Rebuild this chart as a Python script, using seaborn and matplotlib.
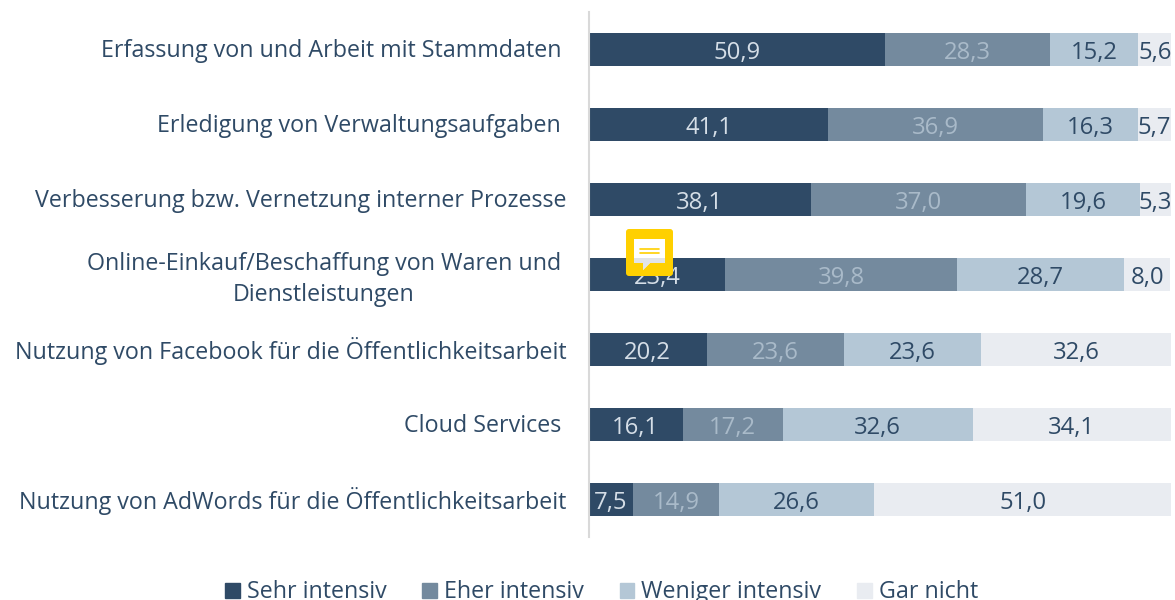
import matplotlib
matplotlib.use('Agg')
import matplotlib.pyplot as plt
from matplotlib.patches import FancyBboxPatch, Polygon, Rectangle
from matplotlib.lines import Line2D
from matplotlib.transforms import ScaledTranslation
import pandas as pd
import seaborn as sns

categories = [
    'Erfassung von und Arbeit mit Stammdaten',
    'Erledigung von Verwaltungsaufgaben',
    'Verbesserung bzw. Vernetzung interner Prozesse',
    'Online-Einkauf/Beschaffung von Waren und\nDienstleistungen',
    'Nutzung von Facebook für die Öffentlichkeitsarbeit',
    'Cloud Services',
    'Nutzung von AdWords für die Öffentlichkeitsarbeit',
]
series_names = ['Sehr intensiv', 'Eher intensiv', 'Weniger intensiv', 'Gar nicht']
sehr_intensiv = [50.9, 41.1, 38.1, 23.4, 20.2, 16.1, 7.5]
eher_intensiv = [28.3, 36.9, 37.0, 39.8, 23.6, 17.2, 14.9]
weniger_intensiv = [15.2, 16.3, 19.6, 28.7, 23.6, 32.6, 26.6]
gar_nicht = [5.6, 5.7, 5.3, 8.0, 32.6, 34.1, 51.0]

colors = ['#2f4a66', '#748a9e', '#b4c7d6', '#e9ecf1']
value_colors = ['#d5dee7', '#a9bac9', '#2f4a66', '#2f4a66']
text_color = '#2f4a66'

sns.set_theme(style='white')
plt.rcParams['font.family'] = ['Open Sans', 'DejaVu Sans']

fig = plt.figure(figsize=(11.75, 6), dpi=100)
ax = fig.add_axes([589 / 1175, 1 - 537 / 600, 582 / 1175, 525 / 600])

left = [0.0] * len(categories)
for name, vals, col, vcol in zip(series_names, [sehr_intensiv, eher_intensiv, weniger_intensiv, gar_nicht], colors, value_colors):
    df = pd.DataFrame({'cat': categories, 'val': vals})
    before = len(ax.containers)
    sns.barplot(data=df, y='cat', x='val', color=col, saturation=1, width=0.44,
                left=left, ax=ax, orient='h', linewidth=0)
    bars = ax.containers[before]
    texts = ax.bar_label(bars, labels=[f'{v:.1f}'.replace('.', ',') for v in vals],
                         label_type='center', color=vcol, fontsize=17.2)
    for t in texts:
        t.xyann = (0, -2.5)
    left = [a + b for a, b in zip(left, vals)]

ax.set_xlim(0, 100)
ax.set_ylim(6.5, -0.5)
ax.set_xlabel('')
ax.set_ylabel('')
ax.xaxis.set_visible(False)
sns.despine(ax=ax, left=False, top=True, right=True, bottom=True)
ax.spines['left'].set_color('#d9d9d9')
ax.spines['left'].set_linewidth(1.5)

# labels do not all end at the same x in the original
pads = [20, 20, 16, 20, 16, 20, 16]
ax.tick_params(axis='y', length=0)
for tick, pad in zip(ax.yaxis.get_major_ticks(), pads):
    tick.set_pad(pad)
lift = ScaledTranslation(0, 1.5 / 100, fig.dpi_scale_trans)
for lab in ax.get_yticklabels():
    lab.set_fontsize(16.75)
    lab.set_color(text_color)
    lab.set_multialignment('center')
    lab.set_linespacing(1.4)
    lab.set_transform(lab.get_transform() + lift)

# legend
handles = [Rectangle((0, 0), 1, 1, color=c) for c in colors]
fig.legend(handles, series_names, loc='lower center', ncol=4, frameon=False,
           bbox_to_anchor=(0.512, -0.042), fontsize=16.75, labelcolor=text_color,
           handlelength=0.62, handleheight=0.62, handletextpad=0.3, columnspacing=1.55)

# yellow comment icon on top of the chart
def px(x, y):
    return (x / 1175, 1 - y / 600)

tr = fig.transFigure
fig.add_artist(FancyBboxPatch((626, 600 - 276), 47, 47, boxstyle='round,pad=0,rounding_size=3',
                              fc='#ffd000', ec='none', transform=None))
fig.add_artist(Polygon([px(634, 239), px(665, 239), px(665, 263), px(650, 263), px(643, 270), px(643, 263), px(634, 263)],
                       closed=True, fc='white', ec='none', transform=tr))
fig.add_artist(Polygon([px(634, 258), px(665, 258), px(665, 263), px(650, 263), px(643, 270), px(643, 263), px(634, 263)],
                       closed=True, fc='#e1e4e8', ec='none', transform=tr))
for y in (249, 253):
    fig.add_artist(Line2D([640 / 1175, 659 / 1175], [1 - y / 600] * 2, color='#ffd000', lw=1.2, transform=tr))

fig.savefig('out.png', dpi=100)
